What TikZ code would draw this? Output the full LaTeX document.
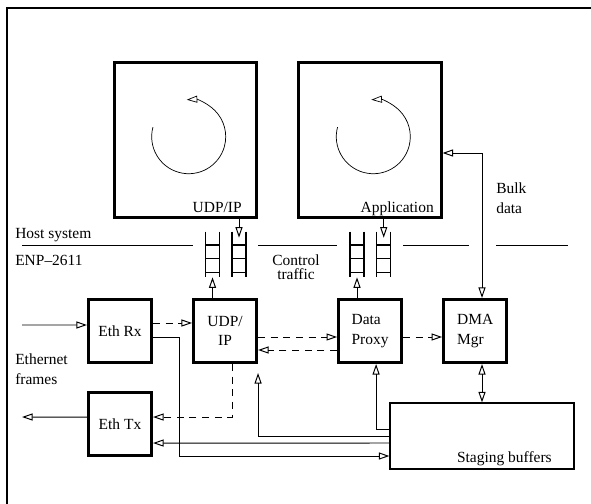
\documentclass[tikz,border=0pt]{standalone}
\usepackage{fontspec}
\setmainfont{Liberation Serif}
\usetikzlibrary{arrows.meta, positioning, calc}

\begin{document}
\begin{tikzpicture}[
    x=0.025cm, y=-0.025cm,
    font=\fontsize{11}{14}\selectfont,
    >={Triangle[open, length=7.5pt, width=5pt]},
    box/.style={draw, line width=2pt, minimum width=1.58cm, minimum height=1.58cm, align=center, inner sep=2pt},
    host/.style={draw, line width=2pt, minimum width=3.555cm, minimum height=3.88cm},
    buffer/.style={draw, line width=0.8pt, minimum width=4.6cm, minimum height=1.65cm},
    fifo/.style={minimum width=0.333cm, minimum height=1.125cm, inner sep=0},
    txt/.style={inner sep=0, align=left},
    line/.style={line width=0.7pt},
    arr/.style={->, line width=0.7pt},
    arrboth/.style={<->, line width=0.7pt},
    ctrl/.style={->, line width=0.7pt, dash pattern=on 5pt off 4pt}
]
\useasboundingbox (0,0) rectangle (591,504);
\draw[line width=1.3pt] (7,504) -- (7,8) -- (591,8);

\node[host] (hostudp) at (185.5,140) {};
\node[host] (app) at (370,140) {};
\node[txt, anchor=base east] (udplbl) at (242,213) {UDP/IP};
\node[txt, anchor=base east] (applbl) at (434,213) {Application};
\draw[arr, line width=0.5pt] ([shift={(165:0.925cm)}]188.7,136.7) arc[start angle=165, end angle=453, radius=0.925cm];
\draw[arr, line width=0.5pt] ([shift={(165:0.925cm)}]373.3,136.7) arc[start angle=165, end angle=453, radius=0.925cm];

\draw[line] (22,245) -- (193,245) (258,245) -- (337,245) (403,245) -- (469,245) (496,245) -- (568,245);
\node[txt, anchor=base west] (hostlbl) at (15,239) {Host system};
\node[txt, anchor=base west] (enplbl) at (15,265.5) {ENP--2611};
\node[txt, align=center, font=\fontsize{11}{10}\selectfont] (ctrllbl) at (296,267) {Control\\traffic};
\node[txt, anchor=west] (bulklbl) at (496,198) {Bulk\\data};

\foreach \q/\x in {qa/212.5, qb/239, qc/357, qd/383.7} {
  \node[fifo] (\q) at (\x,254.5) {};
  \draw[line width=0.9pt] (\q.north west) -- (\q.south west) (\q.north east) -- (\q.south east);
  \foreach \f in {0.29,0.59,0.89}
    \draw[line width=0.9pt] ($(\q.north west)!\f!(\q.south west)$) -- ($(\q.north east)!\f!(\q.south east)$);
}

\node[box] (ethrx) at (120,331) {Eth Rx};
\node[box, right=0.975cm of ethrx] (udp) {UDP/\\IP};
\node[box, align=left, right=1.975cm of udp] (proxy) {Data\\Proxy};
\node[box, align=left, right=0.975cm of proxy] (dma) {DMA\\Mgr};
\node[box, below=0.675cm of ethrx] (ethtx) {Eth Tx};
\node[buffer] (staging) at (482,436) {};
\node[txt, anchor=base east] (stglbl) at (552,462) {Staging buffers};
\node[txt, anchor=west] (ethlbl) at (15,369) {Ethernet\\frames};
\coordinate (ethin) at (22,325);
\coordinate (ethout) at (22,417);

\draw[arr] (udp.north -| qa.south) -- (qa.south);
\draw[arr] (hostudp.south -| qb.north) -- ([yshift=-0.15cm]qb.north);
\draw[arr] (proxy.north -| qc.south) -- (qc.south);
\draw[arr] (app.south -| qd.north) -- ([yshift=-0.15cm]qd.north);

\draw[arr] (ethin) -- ([yshift=0.15cm]ethrx.west);
\draw[arr] ([yshift=0.175cm]ethtx.west) -- (ethout);
\draw[ctrl] ([yshift=0.2cm]ethrx.east) -- ([yshift=0.2cm]udp.west);
\draw[ctrl] ([yshift=-0.15cm]udp.east) -- ([yshift=-0.15cm]proxy.west);
\draw[ctrl] ([yshift=-0.475cm]proxy.west) -- ([yshift=-0.475cm]udp.east);
\draw[ctrl] ([yshift=-0.15cm]proxy.east) -- ([yshift=-0.15cm]dma.west);
\draw[ctrl] ([xshift=0.175cm]udp.south) |- ([yshift=0.175cm]ethtx.east);
\draw[arr] ([yshift=-0.15cm]ethrx.east) -- ++(26,0) |- ([yshift=-0.5cm]staging.west);
\draw[arr] ([yshift=-0.175cm]staging.west) -- ([yshift=-0.475cm]ethtx.east);
\draw[arr] (staging.west) -| ([yshift=-0.225cm]udp.south east);
\draw[arr] ([yshift=0.175cm]staging.west) -| ([xshift=0.15cm]proxy.south);
\draw[arrboth] (dma.south -| staging.north) -- (staging.north);
\draw[arrboth] (dma.north -| staging.north) |- ([yshift=-0.325cm]app.east);
\end{tikzpicture}
\end{document}
